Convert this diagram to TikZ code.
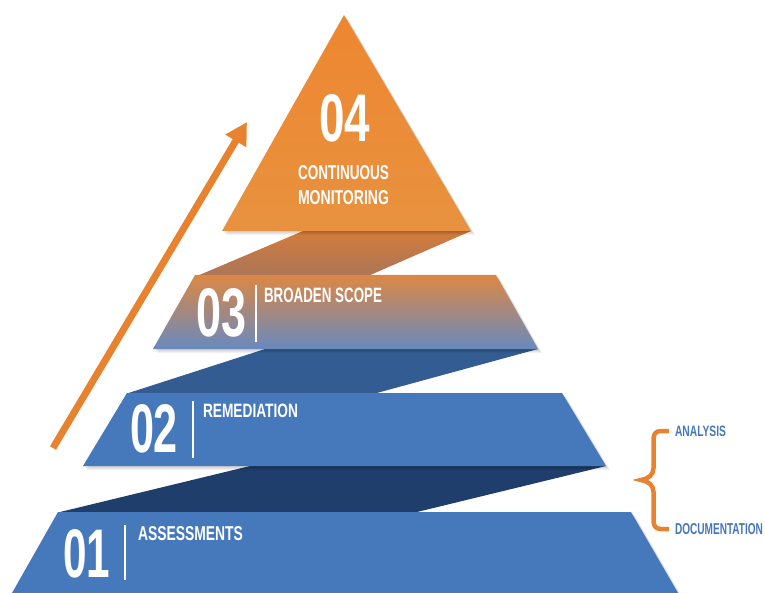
\documentclass[tikz,border=0pt]{standalone}
\usepackage{fontspec}
\setmainfont{Liberation Sans}
\usepackage{graphicx}
\usetikzlibrary{arrows.meta}
\definecolor{orgA}{HTML}{EE8630}
\definecolor{orgB}{HTML}{E8923F}
\definecolor{bandT}{HTML}{D47B3A}
\definecolor{bandB}{HTML}{AA7659}
\definecolor{lvThreeT}{HTML}{DC8844}
\definecolor{lvThreeB}{HTML}{6889BE}
\definecolor{bandBlue}{HTML}{335D92}
\definecolor{lvBlue}{HTML}{4678BC}
\definecolor{bandDark}{HTML}{1F3E6B}
\definecolor{arrowOrange}{HTML}{E9822F}
\definecolor{labelBlue}{HTML}{4676BC}
\newcommand\fitText[3]{\resizebox{#1pt}{#2pt}{\bfseries #3}}
\tikzset{
  txt/.style={inner sep=0pt, outer sep=0pt, anchor=south west, text=white},
  lbl/.style={inner sep=0pt, outer sep=0pt, anchor=south west, text=labelBlue},
  divider/.style={draw=white, line width=1.4pt},
  softshadow/.style={fill=black, opacity=0.05}
}
\begin{document}
\begin{tikzpicture}[x=1pt,y=-1pt]
\useasboundingbox (0,0) rectangle (765,593);
% coordinates
\coordinate (T4a) at (344,15);
\coordinate (T4b) at (471,231);
\coordinate (T4c) at (222,231);
\coordinate (B43a) at (303,231);
\coordinate (B43b) at (471,231);
\coordinate (B43c) at (368,276);
\coordinate (B43d) at (197,276);
\coordinate (L3a) at (195,275);
\coordinate (L3b) at (496,275);
\coordinate (L3c) at (538,349);
\coordinate (L3d) at (153,349);
\coordinate (B32a) at (265,349);
\coordinate (B32b) at (538,349);
\coordinate (B32c) at (375,393.5);
\coordinate (B32d) at (127,393.5);
\coordinate (L2a) at (127,393);
\coordinate (L2b) at (562,393);
\coordinate (L2c) at (606,466);
\coordinate (L2d) at (83,466);
\coordinate (B21a) at (250,466);
\coordinate (B21b) at (606,466);
\coordinate (B21c) at (415,512.5);
\coordinate (B21d) at (58,512.5);
\coordinate (L1a) at (58,512);
\coordinate (L1b) at (631,512);
\coordinate (L1c) at (678,593);
\coordinate (L1d) at (12,593);

% bands
\shade[top color=bandT, bottom color=bandB] (B43a) -- (B43b) -- (B43c) -- (B43d) -- cycle;
\fill[bandBlue] (B32a) -- (B32b) -- (B32c) -- (B32d) -- cycle;
\fill[bandDark] (B21a) -- (B21b) -- (B21c) -- (B21d) -- cycle;

% shadows
\foreach \d in {1,...,4}{
  \fill[softshadow] ([shift={(\d,\d)}]L1a) -- ([shift={(\d,\d)}]L1b) -- ([shift={(\d,\d)}]L1c) -- ([shift={(\d,\d)}]L1d) -- cycle;
  \fill[softshadow] ([shift={(\d,\d)}]L2a) -- ([shift={(\d,\d)}]L2b) -- ([shift={(\d,\d)}]L2c) -- ([shift={(\d,\d)}]L2d) -- cycle;
  \fill[softshadow] ([shift={(\d,\d)}]L3a) -- ([shift={(\d,\d)}]L3b) -- ([shift={(\d,\d)}]L3c) -- ([shift={(\d,\d)}]L3d) -- cycle;
  \fill[softshadow] ([shift={(\d,\d)}]T4a) -- ([shift={(\d,\d)}]T4b) -- ([shift={(\d,\d)}]T4c) -- cycle;
}

% levels
\fill[lvBlue] (L1a) -- (L1b) -- (L1c) -- (L1d) -- cycle;
\fill[lvBlue] (L2a) -- (L2b) -- (L2c) -- (L2d) -- cycle;
\shade[top color=lvThreeT, bottom color=lvThreeB] (L3a) -- (L3b) -- (L3c) -- (L3d) -- cycle;
\shade[top color=orgA, bottom color=orgB] (T4a) -- (T4b) -- (T4c) -- cycle;

% texts level 4
\node[txt] (n4) at (319,142) {\fitText{51}{47}{04}};
\node[txt] (t4a) at (298,180) {\fitText{91}{14}{CONTINUOUS}};
\node[txt] (t4b) at (298,205) {\fitText{91}{14}{MONITORING}};

% level 3
\node[txt] (n3) at (196,337) {\fitText{50}{48}{03}};
\draw[divider] (256,285) -- (256,342);
\node[txt] (t3) at (264,303) {\fitText{118}{14.5}{BROADEN SCOPE}};

% level 2
\node[txt] (n2) at (130,453) {\fitText{48}{48}{02}};
\draw[divider] (193,401) -- (193,458);
\node[txt] (t2) at (203,417.5) {\fitText{95}{13.5}{REMEDIATION}};

% level 1
\node[txt] (n1) at (63,578) {\fitText{47}{48}{01}};
\draw[divider] (125,525) -- (125,580);
\node[txt] (t1) at (138,541) {\fitText{105}{14}{ASSESSMENTS}};

% arrow
\coordinate (arrS) at (53,448);
\coordinate (arrE) at (247,122);
\draw[arrowOrange, line width=7pt, -{Triangle[length=22pt,width=23pt]}] (arrS) -- (arrE);

% brace
\draw[arrowOrange, line width=4.5pt]
  (669,431) -- (661,431) .. controls (656,431) and (653.5,434) .. (653.5,439)
  -- (653.5,468) .. controls (653.5,475) and (648,479) .. (641,480)
  .. controls (648,481) and (653.5,485) .. (653.5,492)
  -- (653.5,521) .. controls (653.5,526) and (656,529) .. (661,529) -- (669,529);

% side labels
\node[lbl] (la) at (675,436.5) {\fitText{51}{10.5}{ANALYSIS}};
\node[lbl] (ld) at (675,535) {\fitText{88}{11}{DOCUMENTATION}};
\end{tikzpicture}
\end{document}
